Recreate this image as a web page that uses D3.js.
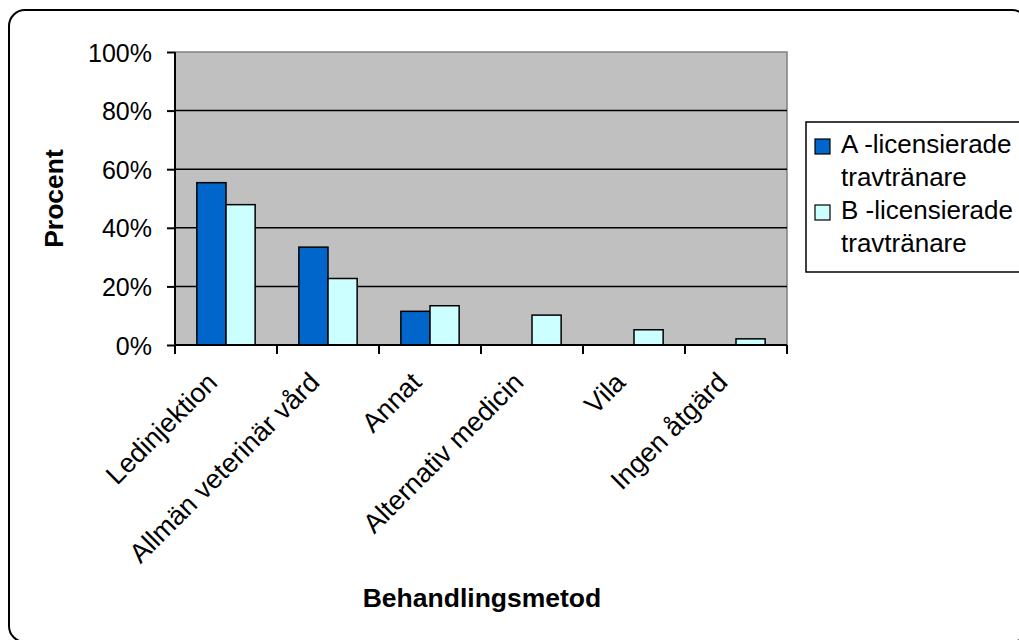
<!DOCTYPE html>
<html>
<head>
<meta charset="utf-8">
<script src="https://cdn.jsdelivr.net/npm/d3@7"></script>
<style>
  html, body { margin: 0; padding: 0; background: #fff; }
  svg { display: block; }
  text { font-family: Arial, "Liberation Sans", sans-serif; fill: #000; }
</style>
</head>
<body>
<svg id="chart" width="1019" height="640"></svg>
<script>
// Treatment methods and the share of trainers (percent) choosing each
const categories = ["Ledinjektion", "Allmän veterinär vård", "Annat", "Alternativ medicin", "Vila", "Ingen åtgärd"];
const seriesNames = ["A -licensierade travtränare", "B -licensierade travtränare"];
const seriesA = [55.4, 33.4, 11.5, 0, 0, 0];
const seriesB = [47.9, 22.7, 13.4, 10.2, 5.2, 2.1];
const yTicks = [0, 20, 40, 60, 80, 100];
const colors = ["#0066CC", "#CCFFFF"];

const FONT = "Arial, 'Liberation Sans', sans-serif";
const svg = d3.select("#chart");

// outer rounded frame
svg.append("rect")
  .attr("x", 9).attr("y", 10).attr("width", 1019).attr("height", 632)
  .attr("rx", 16).attr("ry", 16)
  .attr("fill", "#fff").attr("stroke", "#000").attr("stroke-width", 2);

const plot = { left: 175, top: 52, right: 787, bottom: 345 };

const x = d3.scaleBand().domain(categories).range([plot.left, plot.right]).paddingInner(0).paddingOuter(0);
const y = d3.scaleLinear().domain([0, 100]).range([plot.bottom, plot.top]);

// plot background
svg.append("rect")
  .attr("x", plot.left).attr("y", plot.top)
  .attr("width", plot.right - plot.left).attr("height", plot.bottom - plot.top)
  .attr("fill", "#C0C0C0").attr("stroke", "#808080").attr("stroke-width", 1.5);

// gridlines
svg.append("g").selectAll("line").data(yTicks.filter(d => d > 0 && d < 100)).join("line")
  .attr("x1", plot.left).attr("x2", plot.right)
  .attr("y1", d => y(d)).attr("y2", d => y(d))
  .attr("stroke", "#000").attr("stroke-width", 1.5);

// bars: gap width 150% of bar width
const bw = x.bandwidth() / 3.5;
const series = [seriesA, seriesB];
series.forEach((vals, si) => {
  svg.append("g").selectAll("rect")
    .data(categories.map((c, i) => ({ c, v: vals[i] })).filter(d => d.v > 0))
    .join("rect")
    .attr("x", d => x(d.c) + 0.75 * bw + si * bw)
    .attr("y", d => y(d.v))
    .attr("width", bw)
    .attr("height", d => y(0) - y(d.v))
    .attr("fill", colors[si])
    .attr("stroke", "#000").attr("stroke-width", 1.5);
});

// y axis
const yAxis = svg.append("g")
  .attr("transform", `translate(${plot.left},0)`)
  .call(d3.axisLeft(y).tickValues(yTicks).tickFormat(d => d + "%").tickSize(8).tickPadding(15));
yAxis.select(".domain").attr("stroke", "#000").attr("stroke-width", 2).attr("d", `M0,${plot.top}V${plot.bottom}`);
yAxis.selectAll(".tick line").attr("stroke", "#000").attr("stroke-width", 2);
yAxis.selectAll(".tick text")
  .attr("fill", "#000")
  .attr("dy", "0.36em")
  .style("font-size", "25px")
  .style("font-family", FONT);

// x axis: ticks at category boundaries
const xAxisG = svg.append("g");
xAxisG.append("line")
  .attr("x1", plot.left).attr("x2", plot.right)
  .attr("y1", plot.bottom).attr("y2", plot.bottom)
  .attr("stroke", "#000").attr("stroke-width", 2);
const bounds = categories.map(c => x(c)).concat([x.range()[1]]);
xAxisG.selectAll("line.tk").data(bounds).join("line").attr("class", "tk")
  .attr("x1", d => d).attr("x2", d => d)
  .attr("y1", plot.bottom).attr("y2", plot.bottom + 9)
  .attr("stroke", "#000").attr("stroke-width", 2);

// rotated category labels, ending just left of each category centre
xAxisG.selectAll("text.cat").data(categories).join("text").attr("class", "cat")
  .attr("transform", d => `translate(${x(d) + x.bandwidth() / 2 - 7},${plot.bottom + 39}) rotate(-45)`)
  .attr("text-anchor", "end")
  .style("font-size", "27px")
  .text(d => d);

// axis titles
svg.append("text")
  .attr("transform", `translate(63,${(plot.top + plot.bottom) / 2}) rotate(-90)`)
  .attr("text-anchor", "middle")
  .style("font-size", "26.5px").style("font-weight", "bold")
  .text("Procent");

svg.append("text")
  .attr("x", 482).attr("y", 607)
  .attr("text-anchor", "middle")
  .style("font-size", "26.5px").style("font-weight", "bold")
  .text("Behandlingsmetod");

// legend
const lg = svg.append("g");
lg.append("rect")
  .attr("x", 806).attr("y", 122).attr("width", 240).attr("height", 150)
  .attr("fill", "#fff").attr("stroke", "#000").attr("stroke-width", 1.5);
seriesNames.forEach((name, i) => {
  const base = 153 + i * 66;
  lg.append("rect")
    .attr("x", 815).attr("y", base - 14).attr("width", 15).attr("height", 15)
    .attr("fill", colors[i]).attr("stroke", "#000").attr("stroke-width", 1.2);
  const parts = name.split(" ");
  const line1 = parts.slice(0, 2).join(" ");
  const line2 = parts.slice(2).join(" ");
  lg.append("text").attr("x", 841).attr("y", base).style("font-size", "26px").text(line1);
  lg.append("text").attr("x", 841).attr("y", base + 33).style("font-size", "26px").text(line2);
});
</script>
</body>
</html>
